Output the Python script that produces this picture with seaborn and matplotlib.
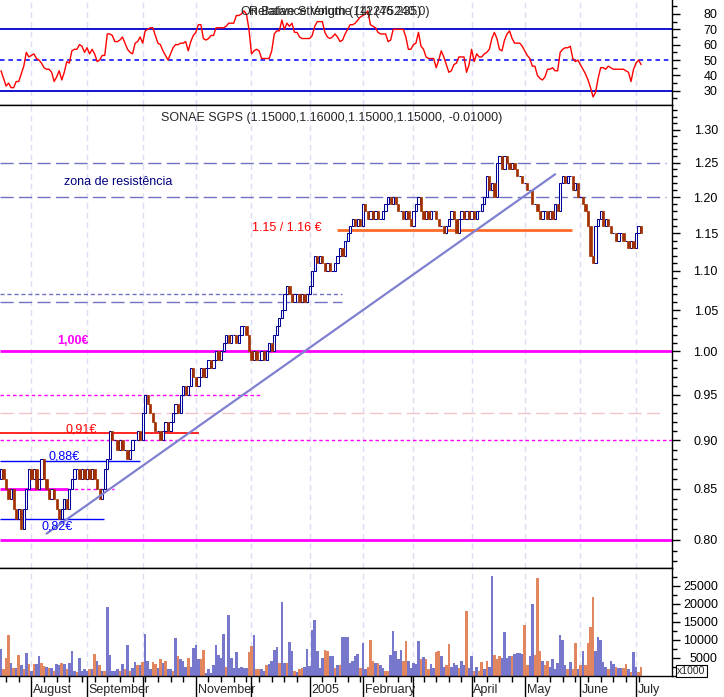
import matplotlib
matplotlib.use("Agg")
import matplotlib.pyplot as plt
import matplotlib.ticker as mticker
import matplotlib.transforms as mtransforms
import seaborn as sns
import numpy as np
import pandas as pd

# ---- data ----
dates = pd.bdate_range("2004-07-15", "2005-07-05")
first_open = 0.86
close = [
    0.87, 0.86, 0.85, 0.84, 0.85, 0.83, 0.82, 0.83, 0.81, 0.83, 0.85, 0.87,
    # Aug
    0.86, 0.87, 0.85, 0.86, 0.88, 0.86, 0.85, 0.84, 0.85, 0.84, 0.83, 0.82,
    0.83, 0.84, 0.83, 0.85, 0.86, 0.87, 0.87, 0.86, 0.87, 0.86,
    # Sep
    0.87, 0.86, 0.87, 0.86, 0.85, 0.84, 0.85, 0.87, 0.88, 0.91, 0.90, 0.90,
    0.89, 0.90, 0.89, 0.89, 0.88, 0.89, 0.90, 0.90, 0.91, 0.90,
    # Oct
    0.93, 0.95, 0.94, 0.93, 0.92, 0.91, 0.91, 0.90, 0.91, 0.92, 0.91, 0.92,
    0.93, 0.94, 0.93, 0.95, 0.96, 0.95, 0.96, 0.98, 0.97,
    # Nov
    0.96, 0.97, 0.98, 0.97, 0.98, 0.99, 0.98, 0.99, 1.00, 0.99, 1.00, 1.01,
    1.02, 1.01, 1.02, 1.02, 1.01, 1.02, 1.03, 1.03, 1.02, 1.00,
    # Dec
    0.99, 1.00, 0.99, 0.99, 1.00, 0.99, 1.00, 1.01, 1.00, 1.02, 1.03, 1.04,
    1.05, 1.07, 1.08, 1.07, 1.06, 1.07, 1.07, 1.06, 1.07, 1.06, 1.07,
    # Jan
    1.08, 1.10, 1.12, 1.11, 1.12, 1.11, 1.10, 1.11, 1.10, 1.10, 1.11, 1.12,
    1.13, 1.12, 1.14, 1.15, 1.16, 1.17, 1.16, 1.17, 1.16,
    # Feb
    1.19, 1.18, 1.17, 1.18, 1.17, 1.18, 1.17, 1.17, 1.18, 1.19, 1.20, 1.19,
    1.20, 1.19, 1.18, 1.18, 1.17, 1.18, 1.17, 1.16,
    # Mar
    1.18, 1.19, 1.20, 1.18, 1.17, 1.18, 1.17, 1.18, 1.18, 1.17, 1.16, 1.16,
    1.15, 1.16, 1.17, 1.18, 1.17, 1.15, 1.17, 1.18, 1.17, 1.18, 1.17,
    # Apr
    1.18, 1.17, 1.18, 1.18, 1.19, 1.20, 1.23, 1.21, 1.22, 1.20, 1.25, 1.26,
    1.24, 1.26, 1.25, 1.24, 1.25, 1.24, 1.23, 1.23, 1.22,
    # May
    1.22, 1.21, 1.21, 1.19, 1.19, 1.18, 1.17, 1.18, 1.18, 1.17, 1.18, 1.17,
    1.19, 1.18, 1.22, 1.23, 1.22, 1.23, 1.23, 1.21, 1.22, 1.20,
    # Jun
    1.20, 1.19, 1.18, 1.16, 1.12, 1.11, 1.16, 1.17, 1.18, 1.16, 1.17, 1.16,
    1.15, 1.15, 1.14, 1.15, 1.15, 1.14, 1.14, 1.13, 1.14, 1.13,
    # Jul
    1.15, 1.16, 1.15,
]

volume = [
    7500, 2000, 5000, 11400, 3600, 2200, 2200, 5800, 3000, 2000,
    6300, 3300, 1300, 3300, 3300, 5500, 3600, 2900, 2400, 2200,
    2200, 1300, 3400, 3000, 3600, 3300, 1800, 3600, 7000, 1500,
    1100, 5000, 1500, 1800, 1500, 1800, 2000, 6000, 4100, 3000,
    1500, 1300, 19200, 5800, 1300, 1500, 2000, 1300, 3300, 1800,
    8700, 1300, 2200, 3900, 3000, 3000, 3900, 11700, 4100, 2000,
    3800, 3300, 2200, 4700, 3600, 4100, 2000, 1800, 1500, 10500,
    5600, 4600, 4100, 2600, 5000, 2400, 7700, 8600, 4600, 4600,
    7200, 800, 1800, 800, 3000, 8700, 5800, 5000, 11600, 2600,
    16900, 5000, 2200, 6700, 2200, 2600, 2200, 2200, 6700, 8200,
    11400, 2000, 2000, 1800, 1500, 3000, 3300, 4100, 7200, 7900,
    3600, 20600, 3600, 3600, 9400, 6800, 1300, 1100, 1800, 2200,
    2600, 7400, 2800, 12800, 15600, 6800, 2200, 5000, 7200, 7000,
    5500, 5500, 2200, 3000, 3000, 10800, 10800, 10800, 3600, 4100,
    5500, 6100, 2200, 9100, 1800, 2600, 10000, 4100, 3600, 3600,
    3000, 2200, 1500, 1500, 5800, 12500, 6800, 4600, 7200, 4100,
    9800, 4100, 2200, 3600, 3300, 9800, 4600, 5200, 4600, 1800,
    3300, 2200, 6700, 6800, 5500, 2400, 3000, 8900, 2600, 3600,
    3000, 2200, 4100, 3000, 18000, 2200, 5600, 1300, 2600, 1300,
    3900, 2000, 4100, 2600, 27700, 5800, 4600, 5600, 5000, 12300,
    5000, 5500, 5600, 6100, 6300, 6300, 6100, 14200, 3000, 5600,
    19800, 5800, 27100, 6800, 4100, 3000, 4100, 2600, 4600, 2000,
    3600, 11400, 10000, 3000, 1800, 3900, 2000, 9100, 1800, 3000,
    7000, 3000, 9200, 13600, 22000, 7000, 10800, 10000, 3900, 2600,
    2000, 4100, 3300, 2600, 2200, 2200, 2200, 3300, 1800, 1100,
    6700, 2600, 1100, 2400,
]

# b = blue (up) volume bar, o = orange (down) volume bar
volume_side = (
    "booobobobo" "bobobboobo" "bobbobobbb" "obbbbobobo" "bobbbbbobo"
    "bobbobobbb" "oobobobbob" "obbbobbbbo" "obbbbbbbbo" "bbbbbbbboo"
    "boobbobbbb" "obbobboboo" "bbbbbbbboo" "bbobobbbbb" "bbobbooobo"
    "bboobbbbbo" "obbbbboboo" "bboobboobb" "bobbobbobo" "obobbooobb"
    "bbobbbboob" "boooboobbb" "bbbboboobo" "boooobbbbb" "obbobboobo"
    "bboo"
)

rsi = [
    43, 38, 33, 35, 32, 32, 36, 36, 41, 46,
    55, 52, 53, 54, 51, 50, 48, 45, 44, 44,
    42, 36, 39, 43, 37, 42, 49, 48, 56, 57,
    57, 60, 59, 55, 58, 54, 57, 54, 49, 50,
    53, 53, 67, 67, 66, 62, 62, 63, 65, 61,
    57, 55, 54, 61, 62, 65, 61, 69, 70, 71,
    71, 66, 61, 60, 56, 53, 50, 54, 58, 60,
    60, 61, 61, 62, 56, 62, 66, 68, 73, 73,
    64, 63, 64, 66, 66, 71, 71, 71, 71, 72,
    74, 74, 74, 79, 79, 80, 82, 80, 70, 54,
    56, 57, 56, 51, 51, 51, 51, 56, 67, 69,
    69, 76, 70, 74, 72, 74, 68, 68, 65, 64,
    64, 64, 64, 66, 72, 75, 75, 75, 68, 65,
    64, 65, 67, 65, 62, 63, 67, 70, 73, 73,
    74, 76, 78, 79, 80, 82, 73, 72, 71, 68,
    67, 67, 67, 62, 63, 70, 70, 70, 70, 70,
    65, 57, 57, 60, 61, 68, 59, 57, 52, 51,
    51, 51, 45, 50, 56, 52, 47, 42, 43, 47,
    48, 52, 52, 52, 42, 47, 57, 49, 54, 52,
    52, 54, 55, 57, 64, 68, 64, 57, 56, 63,
    67, 69, 64, 61, 61, 61, 59, 56, 53, 51,
    46, 46, 40, 38, 37, 39, 44, 44, 45, 43,
    43, 55, 57, 58, 58, 59, 51, 49, 50, 47,
    44, 41, 37, 32, 26, 29, 38, 45, 45, 44,
    46, 45, 44, 44, 44, 44, 44, 43, 42, 36,
    44, 48, 50, 47,
]

month_labels = ["August", "September", "", "November", "", "2005",
                "February", "", "April", "May", "June", "July"]
price_ticks = [0.80, 0.85, 0.90, 0.95, 1.00, 1.05, 1.10, 1.15, 1.20, 1.25, 1.30]
rsi_ticks = [30, 40, 50, 60, 70, 80]
vol_ticks = [5000, 10000, 15000, 20000, 25000]
trend_dates = ["2004-08-10", "2005-05-18"]
trend_prices = [0.806, 1.233]

# ---- style ----
sns.set_style("white")
plt.rcParams["font.family"] = ["Liberation Sans Narrow", "Liberation Sans", "DejaVu Sans"]
plt.rcParams["axes.unicode_minus"] = False
FS = 9

NAVY = "#000099"
BROWN = "#a33000"
VBLUE = "#7777cc"
VORANGE = "#e2865f"
GRID = "#dcdcf2"
LAV = "#7272c4"
MAG = "#ff00ff"

df = pd.DataFrame({"date": dates, "close": close, "volume": volume, "rsi": rsi})
df["open"] = [first_open] + close[:-1]
df["up"] = df["close"] >= df["open"]
df["side"] = list(volume_side)
df["i"] = np.arange(len(df))

months = df["date"].dt.month
month_idx = df["i"][months != months.shift()].tolist()[1:]
week_idx = df["i"][df["date"].dt.weekday == 0].tolist()

W, H = 724, 697
fig = plt.figure(figsize=(W / 100, H / 100), dpi=100)
ax_r = fig.add_axes([0, 1 - 105 / H, 672 / W, 105 / H])
ax_p = fig.add_axes([0, 1 - 568 / H, 672 / W, 463 / H])
ax_v = fig.add_axes([0, 1 - 676 / H, 672 / W, 108 / H])

xlim = (-0.4, 265.2)
for ax in (ax_r, ax_p, ax_v):
    ax.set_xlim(*xlim)
    ax.set_facecolor("white")
    ax.spines["left"].set_visible(False)
    for s in ("top", "bottom", "right"):
        ax.spines[s].set_color("black")
        ax.spines[s].set_linewidth(1)
    for m in month_idx:
        ax.axvline(m, color=GRID, lw=1, ls=(0, (4, 3)), zorder=0)
    ax.yaxis.tick_right()
    ax.tick_params(axis="y", which="both", right=True, left=False, direction="out",
                   colors="black", labelsize=FS)
    ax.tick_params(axis="y", which="major", length=6, width=1, pad=27)
    ax.tick_params(axis="y", which="minor", length=3.5, width=1)
    ax.tick_params(axis="x", which="both", bottom=False, top=False, labelbottom=False)
ax_r.spines["top"].set_visible(False)

# ---- RSI panel ----
sns.lineplot(data=df, x="i", y="rsi", ax=ax_r, color="red", linewidth=1)
ax_r.axhline(70, color="#0000cc", lw=1.3, zorder=1)
ax_r.axhline(30, color="#0000cc", lw=1.3, zorder=1)
ax_r.axhline(50, color="#0000ff", lw=1.1, ls=(0, (3, 2.5)), zorder=1)
ax_r.set_ylim(20.7, 89.1)
ax_r.yaxis.set_major_locator(mticker.FixedLocator(rsi_ticks))
ax_r.yaxis.set_minor_locator(mticker.MultipleLocator(5))
ax_r.set_xlabel("")
ax_r.set_ylabel("")
# two indicator captions drawn on top of each other, as in the source chart
ax_r.text(0.4985, 0.886, "On Balance Volume (12275240.0)", transform=ax_r.transAxes,
          ha="center", va="center", fontsize=FS)
ax_r.text(0.4985, 0.886, "Relative Strength (14) (46.235)", transform=ax_r.transAxes,
          ha="center", va="center", fontsize=FS)

# ---- price panel ----
ax_p.set_yscale("log")
ax_p.set_ylim(0.7739, 1.3383)
ax_p.yaxis.set_major_locator(mticker.FixedLocator(price_ticks))
ax_p.yaxis.set_major_formatter(mticker.FormatStrFormatter("%.2f"))
ax_p.yaxis.set_minor_locator(mticker.FixedLocator(np.round(np.arange(0.78, 1.34, 0.01), 2)))
ax_p.yaxis.set_minor_formatter(mticker.NullFormatter())

# support / resistance annotations
ax_p.hlines([1.25, 1.20], -0.4, 263, color=LAV, lw=1, ls=(0, (9.5, 3.8)), zorder=1)
ax_p.hlines(1.07, -0.4, 134.8, color=LAV, lw=1, ls=(0, (3, 2)), zorder=1)
ax_p.hlines(1.06, -0.4, 134.8, color=LAV, lw=1, ls=(0, (9.5, 3.8)), zorder=1)
ax_p.hlines(1.155, 132.8, 225.7, color="#ff6a28", lw=2, zorder=1)
ax_p.hlines([1.00, 0.80], xlim[0], xlim[1], color=MAG, lw=2, zorder=1)
ax_p.hlines(0.95, -0.4, 102.4, color=MAG, lw=1, ls=(0, (2.5, 2)), zorder=1)
ax_p.hlines(0.93, -0.4, 262.5, color="#f2c4c8", lw=1, ls=(0, (9.5, 3.8)), zorder=1)
ax_p.hlines(0.908, -0.4, 78.3, color="#ff0000", lw=1.2, zorder=1)
ax_p.hlines(0.90, xlim[0], xlim[1], color=MAG, lw=1, ls=(0, (2.5, 2)), zorder=1)
ax_p.hlines(0.8785, -0.4, 55, color="#0000ff", lw=1, zorder=1)
ax_p.hlines(0.85, -0.4, 26.5, color=MAG, lw=2, zorder=1)
ax_p.hlines(0.85, 26.5, 44.7, color=MAG, lw=1, ls=(0, (2.5, 2)), zorder=1)
ax_p.hlines(0.82, -0.4, 40.7, color="#0000ff", lw=1, zorder=1)

# candles
up = df[df["up"]]
dn = df[~df["up"]]
ax_p.bar(up["i"], up["close"] - up["open"], bottom=up["open"], width=0.9,
         facecolor="white", edgecolor=NAVY, linewidth=0.75, zorder=2)
ax_p.bar(dn["i"], dn["open"] - dn["close"], bottom=dn["close"], width=0.9,
         facecolor=BROWN, edgecolor=BROWN, linewidth=0.5, zorder=2)

# trend line
trend_i = [df.index[df["date"] == pd.Timestamp(d)][0] for d in trend_dates]
sns.lineplot(x=trend_i, y=trend_prices, ax=ax_p, color="#8080d0", linewidth=1.6, zorder=3)
ax_p.set_xlim(*xlim)
ax_p.set_xlabel("")
ax_p.set_ylabel("")

ax_p.text(0.493, 0.972, "SONAE SGPS (1.15000,1.16000,1.15000,1.15000, -0.01000)",
          transform=ax_p.transAxes, ha="center", va="center", fontsize=FS)
ax_p.text(24.9, 1.2215, "zona de resistência", color="#000080", fontsize=FS, va="center")
ax_p.text(126.9, 1.157, "1.15 / 1.16 €", color="#ff0000", fontsize=FS, va="center", ha="right")
ax_p.text(22.1, 1.012, "1,00€", color=MAG, fontsize=FS, fontweight="bold", va="center")
ax_p.text(25.3, 0.912, "0,91€", color="#ff0000", fontsize=FS, va="center")
ax_p.text(18.6, 0.8835, "0,88€", color="#0000ff", fontsize=FS, va="center")
ax_p.text(16.2, 0.8125, "0,82€", color="#0000ff", fontsize=FS, va="center")

# ---- volume panel ----
vcolors = [VBLUE if s == "b" else VORANGE for s in df["side"]]
ax_v.bar(df["i"], df["volume"], width=1.0, color=vcolors, linewidth=0, zorder=2)
ax_v.set_ylim(0, 29900)
ax_v.yaxis.set_major_locator(mticker.FixedLocator(vol_ticks))
ax_v.yaxis.set_minor_locator(mticker.MultipleLocator(2500))
ax_v.set_xticks(month_idx)
ax_v.set_xticks(week_idx, minor=True)
ax_v.tick_params(axis="x", which="major", bottom=True, length=15, width=1,
                 direction="out", labelbottom=False, colors="black")
ax_v.tick_params(axis="x", which="minor", bottom=True, length=4, width=1,
                 direction="out", colors="black")
trans = mtransforms.blended_transform_factory(ax_v.transData, ax_v.transAxes)
for m, lab in zip(month_idx, month_labels):
    if lab:
        ax_v.text(m + 0.7, -0.13, lab, transform=trans, ha="left", va="center", fontsize=FS)

for ax in (ax_r, ax_p, ax_v):
    for lbl in ax.get_yticklabels():
        lbl.set_horizontalalignment("right")

fig.text(677 / W, 1 - 671 / H, "x1000", fontsize=7.5, ha="left", va="center",
         bbox=dict(boxstyle="square,pad=0.12", fc="white", ec="black", lw=0.8))

fig.savefig("out.png", dpi=100)
